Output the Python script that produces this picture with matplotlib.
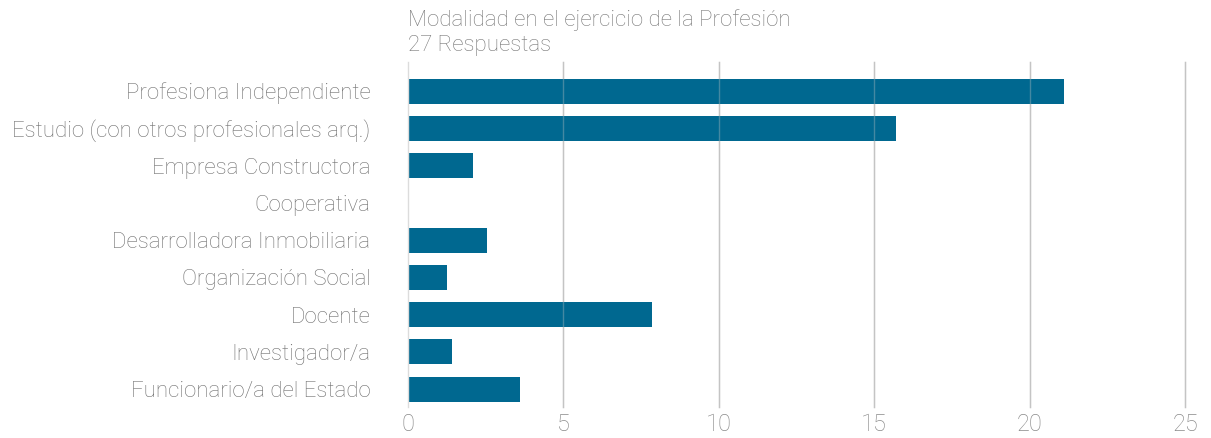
import matplotlib
matplotlib.use("Agg")
import matplotlib.pyplot as plt

categories = ["Profesiona Independiente", "Estudio (con otros profesionales arq.)",
              "Empresa Constructora", "Cooperativa", "Desarrolladora Inmobiliaria",
              "Organización Social", "Docente", "Investigador/a", "Funcionario/a del Estado"]
values = [21.1, 15.7, 2.1, 0, 2.55, 1.25, 7.85, 1.4, 3.6]
xticks = [0, 5, 10, 15, 20, 25]
title_lines = ["Modalidad en el ejercicio de la Profesión", "27 Respuestas"]

plt.rcParams['font.family'] = ['Roboto', 'DejaVu Sans']
fig = plt.figure(figsize=(12.11, 4.38), dpi=100)
ax = fig.add_axes([408/1211, 1-407/438, (1185-408)/1211, (407-62)/438])

y = list(range(len(categories)))
ax.barh(y, values, height=0.67, color="#006890", zorder=3)
ax.set_ylim(8.48, -0.78)
ax.set_xlim(0, 25)
ax.set_xticks(xticks)
ax.set_xticklabels([str(t) for t in xticks], fontsize=17, color="#8a8a8a", fontweight='light')
ax.set_yticks(y)
ax.set_yticklabels(categories, fontsize=16, color="#707070", fontweight='light')
ax.tick_params(axis='both', length=0)
ax.tick_params(axis='y', pad=27)
ax.tick_params(axis='x', pad=4)
for s in ax.spines.values():
    s.set_visible(False)
for t in xticks:
    ax.axvline(t, color="#dcdcdc" if t == 0 else "#c4c4c4", lw=1.0,
               zorder=4 if t == 0 else 2, clip_on=False)
for t in xticks[1:]:
    ax.axvline(t, color="#c4c4c4", lw=1.0, alpha=0.35, zorder=4, clip_on=False)

fig.text(408/1211, 1-20/438, title_lines[0], fontsize=16, color="#777777", va='center', ha='left', fontweight='light')
fig.text(408/1211, 1-46/438, title_lines[1], fontsize=16, color="#777777", va='center', ha='left', fontweight='light')

fig.savefig("out.png", dpi=100)
